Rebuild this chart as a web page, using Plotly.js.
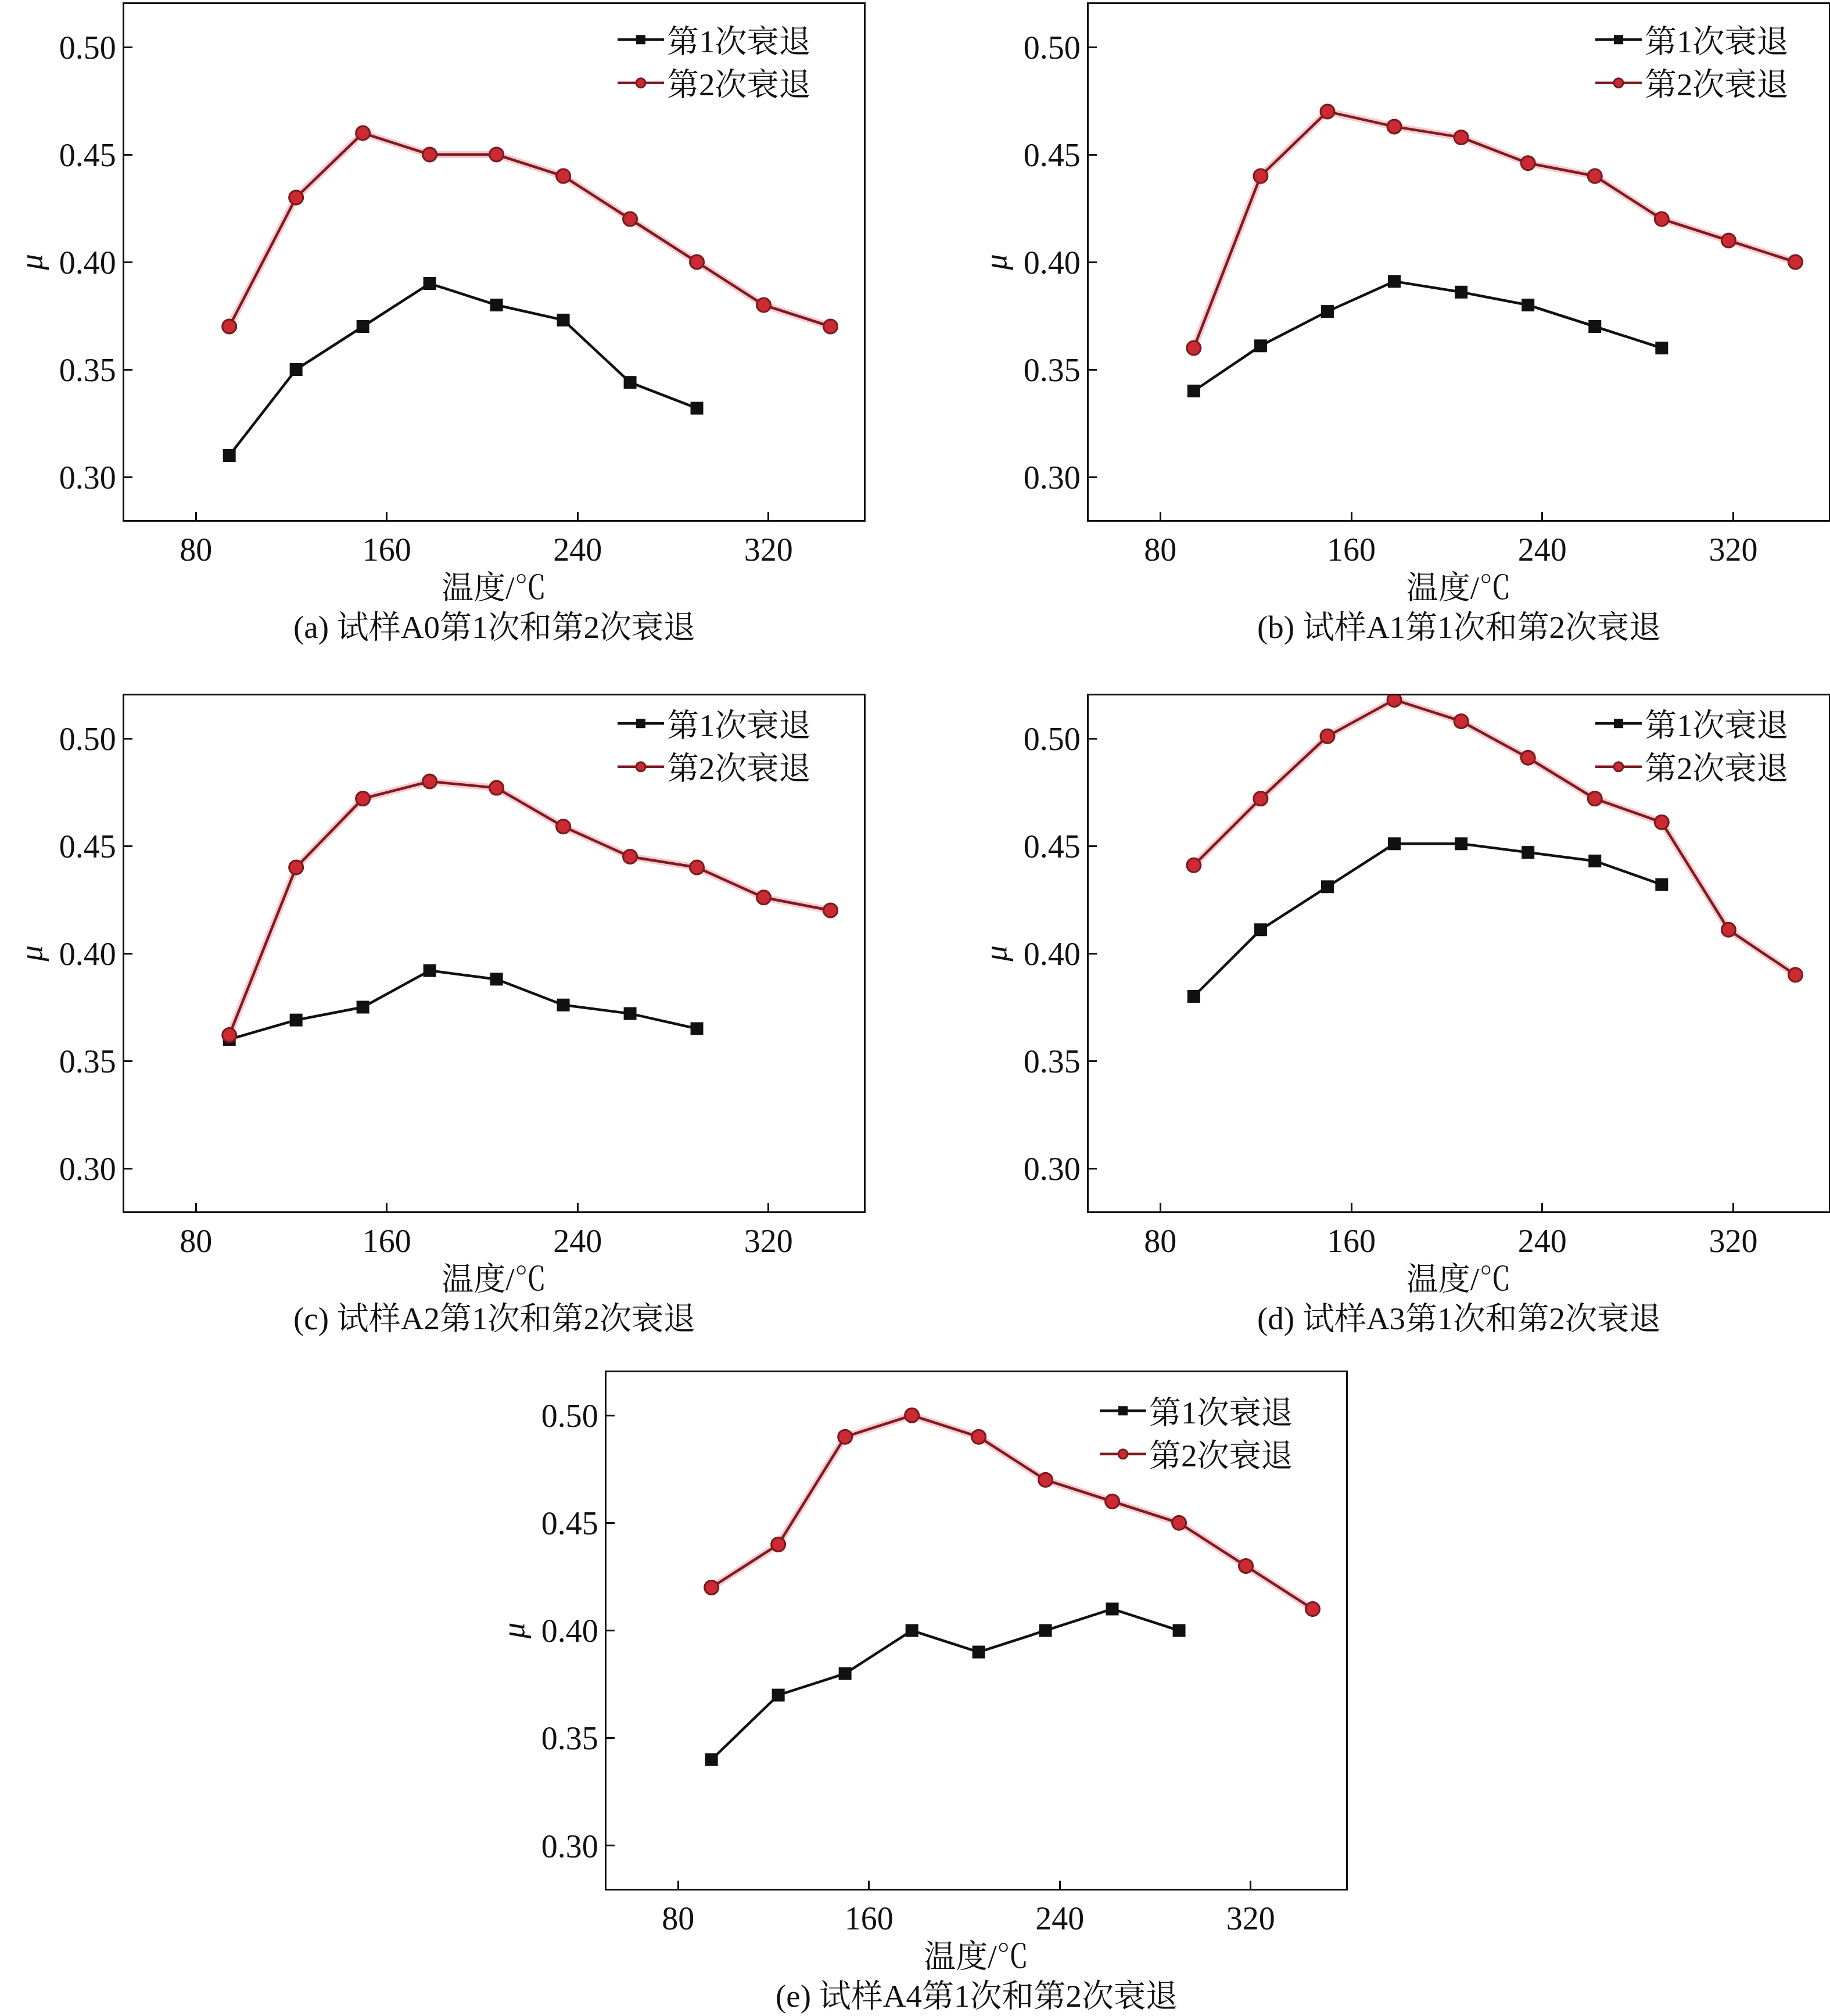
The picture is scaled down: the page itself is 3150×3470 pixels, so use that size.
<!DOCTYPE html>
<html>
<head>
<meta charset="utf-8">
<script src="https://cdn.plot.ly/plotly-3.0.1.min.js"></script>
<style>
  html, body { margin: 0; padding: 0; background: #fff; }
  #chart { width: 3150px; height: 3470px; }
</style>
</head>
<body>
<div id="chart"></div>
<script>
// temperatures (°C) for the two decay runs
const temps1 = [94, 122, 150, 178, 206, 234, 262, 290];
const temps2 = [94, 122, 150, 178, 206, 234, 262, 290, 318, 346];

// friction coefficient μ, 1st decay
const a0First = [0.310, 0.350, 0.370, 0.390, 0.380, 0.373, 0.344, 0.332];
const a1First = [0.340, 0.361, 0.377, 0.391, 0.386, 0.380, 0.370, 0.360];
const a2First = [0.360, 0.369, 0.375, 0.392, 0.388, 0.376, 0.372, 0.365];
const a3First = [0.380, 0.411, 0.431, 0.451, 0.451, 0.447, 0.443, 0.432];
const a4First = [0.340, 0.370, 0.380, 0.400, 0.390, 0.400, 0.410, 0.400];

// friction coefficient μ, 2nd decay
const a0Second = [0.370, 0.430, 0.460, 0.450, 0.450, 0.440, 0.420, 0.400, 0.380, 0.370];
const a1Second = [0.360, 0.440, 0.470, 0.463, 0.458, 0.446, 0.440, 0.420, 0.410, 0.400];
const a2Second = [0.362, 0.440, 0.472, 0.480, 0.477, 0.459, 0.445, 0.440, 0.426, 0.420];
const a3Second = [0.441, 0.472, 0.501, 0.518, 0.508, 0.491, 0.472, 0.461, 0.411, 0.390];
const a4Second = [0.420, 0.440, 0.490, 0.500, 0.490, 0.470, 0.460, 0.450, 0.430, 0.410];

const seriesNames = ["第1次衰退", "第2次衰退"];
const captions = [
  "(a) 试样A0第1次和第2次衰退",
  "(b) 试样A1第1次和第2次衰退",
  "(c) 试样A2第1次和第2次衰退",
  "(d) 试样A3第1次和第2次衰退",
  "(e) 试样A4第1次和第2次衰退",
];
const xTicks = [80, 160, 240, 320];
const yTicks = [0.30, 0.35, 0.40, 0.45, 0.50];

const W = 3150, H = 3470;
const FONT = "Liberation Serif, 'Noto Serif CJK SC', 'Noto Sans CJK SC', serif";
const fs = 55;

// panel frames in pixels: [left, right, top, bottom]
const frames = [
  [214, 1487, 7, 895],
  [1874, 3148, 7, 895],
  [214, 1487, 1197, 2085],
  [1874, 3148, 1197, 2085],
  [1044, 2317, 2362, 3251],
];
// legend offset from the frame's top-left corner, pixels
const legendPos = [
  [844, 19],
  [867, 19],
  [844, 6],
  [867, 6],
  [844, 24],
];
const panels = [
  [a0First, a0Second],
  [a1First, a1Second],
  [a2First, a2Second],
  [a3First, a3Second],
  [a4First, a4Second],
];

const traces = [];
const layout = {
  width: W, height: H,
  margin: { l: 0, r: 0, t: 0, b: 0 },
  paper_bgcolor: "#fff", plot_bgcolor: "#fff",
  font: { family: FONT, size: fs, color: "#111" },
  showlegend: true,
  annotations: [],
};

panels.forEach(([first, second], i) => {
  const n = i + 1;
  const xa = n === 1 ? "x" : "x" + n;
  const ya = n === 1 ? "y" : "y" + n;
  const lg = n === 1 ? "legend" : "legend" + n;
  const [l, r, t, b] = frames[i];

  // soft red halo under the 2nd decay line
  traces.push({
    x: temps2, y: second, xaxis: xa, yaxis: ya, mode: "lines",
    line: { color: "rgba(215,70,80,0.28)", width: 12 },
    showlegend: false, hoverinfo: "skip",
  });
  traces.push({
    x: temps1, y: first, xaxis: xa, yaxis: ya, legend: lg,
    name: seriesNames[0], mode: "lines+markers",
    line: { color: "#111", width: 4.5 },
    marker: { symbol: "square", size: 22, color: "#111" },
  });
  traces.push({
    x: temps2, y: second, xaxis: xa, yaxis: ya, legend: lg,
    name: seriesNames[1], mode: "lines+markers",
    line: { color: "#7e1a22", width: 4.5 },
    marker: { symbol: "circle", size: 24, color: "#cc2a32",
              line: { color: "#7a1a1e", width: 3 } },
  });

  const axisCommon = {
    showline: true, mirror: true, linecolor: "#111", linewidth: 3,
    ticks: "inside", ticklen: 14, tickwidth: 3, tickcolor: "#111",
    showgrid: false, zeroline: false,
    tickfont: { family: FONT, size: 56, color: "#111" },
  };
  layout["xaxis" + (n === 1 ? "" : n)] = Object.assign({}, axisCommon, {
    domain: [l / W, r / W], anchor: ya, range: [50, 360],
    tickvals: xTicks, ticktext: xTicks.map(String),
    title: { text: "温度/℃", font: { family: FONT, size: fs, color: "#111" }, standoff: 16 },
  });
  layout["yaxis" + (n === 1 ? "" : n)] = Object.assign({}, axisCommon, {
    domain: [1 - b / H, 1 - t / H], anchor: xa, range: [0.28, 0.52],
    tickvals: yTicks, ticktext: yTicks.map(v => v.toFixed(2)),
    title: { text: "<i>μ</i>", font: { family: FONT, size: fs, color: "#111" }, standoff: 12 },
  });
  const [lx, ly] = legendPos[i];
  layout[lg] = {
    x: (l + lx) / W, y: 1 - (t + ly) / H, xanchor: "left", yanchor: "top",
    bgcolor: "rgba(0,0,0,0)", borderwidth: 0, itemwidth: 80,
    font: { family: FONT, size: fs, color: "#111" },
  };
  layout.annotations.push({
    xref: "paper", yref: "paper", x: (l + r) / 2 / W, y: 1 - (b + 184) / H,
    xanchor: "center", yanchor: "middle", showarrow: false,
    text: captions[i], font: { family: FONT, size: fs, color: "#111" },
  });
});

Plotly.newPlot("chart", traces, layout, { staticPlot: true });
</script>
</body>
</html>
